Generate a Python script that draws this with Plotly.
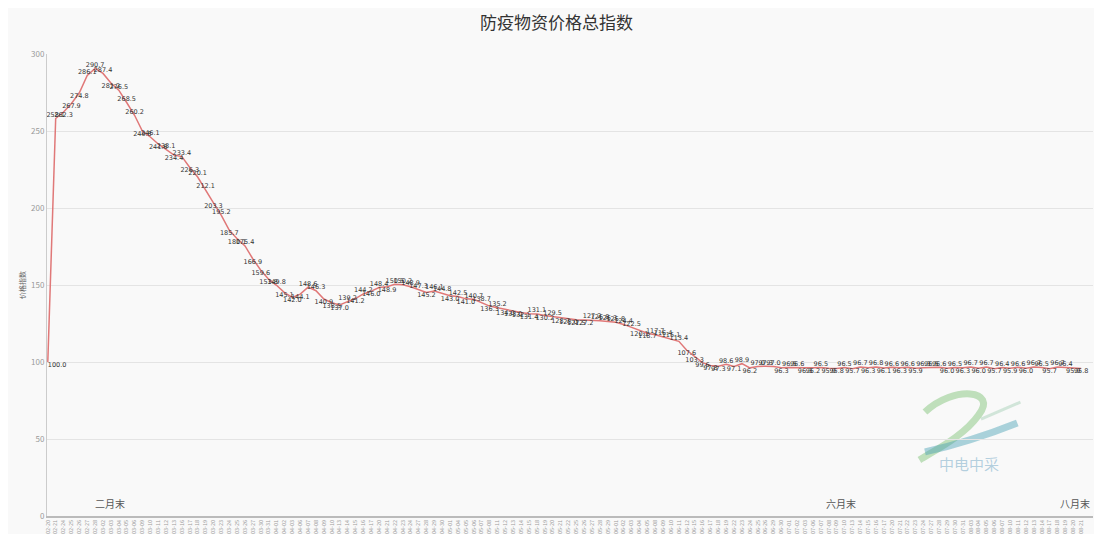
import pandas as pd
import plotly.graph_objects as go

# 防疫物资价格总指数 — values
index_values = [
    100.0, 258.1, 262.3, 267.9, 274.8, 286.1, 290.7, 287.4, 281.2, 276.5,
    268.5, 260.2, 249.8, 246.1, 241.6, 238.1, 234.4, 233.4, 226.3, 220.1,
    212.1, 203.3, 195.2, 185.7, 180.1, 175.4, 166.9, 159.6, 153.8, 149.8,
    145.1, 142.0, 144.1, 148.6, 146.3, 140.9, 138.5, 137.0, 139.2, 141.2,
    144.2, 146.0, 148.4, 148.9, 150.5, 150.2, 148.9, 147.3, 145.2, 146.1,
    144.8, 143.0, 142.5, 141.0, 140.7, 138.7, 136.3, 135.2, 134.0, 133.0,
    132.1, 131.4, 131.1, 130.2, 129.5, 128.7, 128.0, 127.5, 127.2, 127.2,
    126.8, 126.3, 125.8, 124.4, 122.5, 120.1, 118.7, 117.7, 116.4, 115.1,
    113.4, 107.6, 103.3, 99.6, 97.8, 97.3, 98.6, 97.1, 98.9, 96.2,
    97.0, 97.3, 97.0, 96.3, 96.5, 96.6, 96.3, 96.2, 96.5, 95.9,
    95.8, 96.5, 95.7, 96.7, 96.3, 96.8, 96.1, 96.6, 96.3, 96.6,
    95.9, 96.3, 96.5, 96.6, 96.0, 96.5, 96.3, 96.7, 96.0, 96.7,
    95.7, 96.4, 95.9, 96.6, 96.0, 96.7, 96.5, 95.7, 96.7, 96.4,
    95.9, 95.8,
]
dates = pd.bdate_range("2020-02-20", periods=len(index_values))
date_labels = [d.strftime("%m-%d") for d in dates]
period_notes = ["二月末", "六月末", "八月末"]
note_x = [7.9, 100.5, 130.2]

x = list(range(len(index_values)))

positions = []
for i, v in enumerate(index_values):
    if i == 0:
        positions.append("bottom right")
        continue
    prev_v = index_values[i - 1]
    next_v = index_values[i + 1] if i + 1 < len(index_values) else v
    positions.append("top center" if v >= (prev_v + next_v) / 2 else "bottom center")

fig = go.Figure()
fig.add_trace(
    go.Scatter(
        x=x,
        y=index_values,
        mode="lines+text",
        text=[f"{v:.1f}" for v in index_values],
        textposition=positions,
        textfont={"size": 6.5, "color": "#333333", "family": "DejaVu Sans"},
        line={"color": "#e07878", "width": 1.5},
        hoverinfo="x+y",
        showlegend=False,
        cliponaxis=False,
    )
)

# 中电中采 watermark
fig.add_shape(
    type="path",
    path="M 111.2,67.5 C 114.9,85.1 120.5,81.8 118.0,65.6 C 116.2,52.6 113.0,44.2 110.5,36.4",
    line={"color": "rgba(120,190,110,0.45)", "width": 7},
    layer="below",
)
fig.add_shape(
    type="path",
    path="M 111.2,41.6 Q 116.8,48 122.9,60.4",
    line={"color": "rgba(70,160,180,0.45)", "width": 7},
    layer="below",
)
fig.add_shape(
    type="path",
    path="M 118.3,62.9 L 123.3,73.9",
    line={"color": "rgba(150,200,170,0.4)", "width": 3},
    layer="below",
)
fig.add_annotation(
    x=116.8, y=34.0, text="中电中采", showarrow=False,
    font={"size": 15, "color": "rgba(120,170,200,0.55)", "family": "Noto Sans CJK SC"},
)

for note, nx in zip(period_notes, note_x):
    fig.add_annotation(
        x=nx, y=8, text=note, showarrow=False, xanchor="center",
        font={"size": 10, "color": "#555555", "family": "Noto Sans CJK SC"},
    )

fig.update_layout(
    width=1086,
    height=526,
    title={
        "text": "防疫物资价格总指数",
        "x": 0.505,
        "y": 0.972,
        "xanchor": "center",
        "yanchor": "middle",
        "font": {"size": 17, "color": "#333333", "family": "Noto Sans CJK SC"},
    },
    paper_bgcolor="#f9f9f9",
    plot_bgcolor="#f9f9f9",
    margin={"l": 39, "r": 1, "t": 46, "b": 18},
    font={"family": "Noto Sans CJK SC"},
    xaxis={
        "range": [-0.1, 132.5],
        "tickmode": "array",
        "tickvals": x,
        "ticktext": date_labels,
        "tickangle": -90,
        "tickfont": {"size": 5.5, "color": "#999999"},
        "showgrid": False,
        "zeroline": False,
        "showline": True,
        "linecolor": "#bbbbbb",
        "linewidth": 1.5,
    },
    yaxis={
        "range": [0, 300],
        "tickvals": [0, 50, 100, 150, 200, 250, 300],
        "tickfont": {"size": 8, "color": "#999999"},
        "gridcolor": "#e4e4e4",
        "zeroline": False,
        "showline": True,
        "linecolor": "#cccccc",
        "title": {"text": "价格指数", "font": {"size": 7, "color": "#666666"}, "standoff": 4},
    },
)

fig.write_html("out.html")
